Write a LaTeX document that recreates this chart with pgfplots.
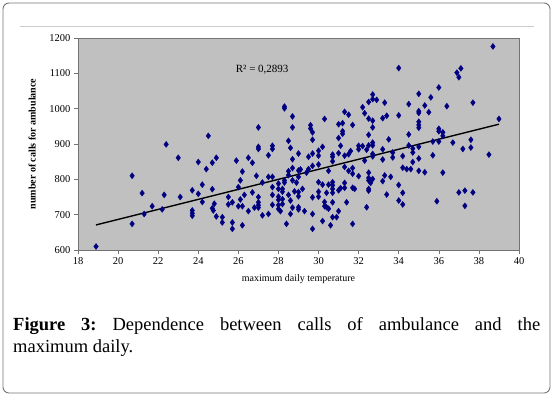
\documentclass[border=0pt]{standalone}
\usepackage{pgfplots}
\pgfplotsset{compat=1.18}
\usepackage{fontspec}
\setmainfont{Liberation Serif}
\definecolor{plotbg}{RGB}{192,192,192}
\definecolor{navymark}{RGB}{0,0,128}
\pgfplotstableread{
x y
18.9 610
20.7 810
20.7 674
21.2 761
21.3 702
21.7 724
22.2 715
22.3 756
22.4 899
23.0 861
23.1 750
23.7 769
23.7 712
23.7 704
23.7 697
24.0 849
24.0 759
24.2 785
24.2 736
24.4 829
24.5 923
24.7 772
24.7 847
24.9 861
24.7 718
24.75 712
24.8 731
24.9 695
25.2 693
25.2 678
25.5 750
25.5 729
25.7 735
25.7 678
25.7 660
25.9 853
26.0 778
26.1 797
26.1 743
26.0 724
26.2 822
26.2 670
26.2 724
26.3 756
26.5 861
26.5 710
26.7 847
26.7 763
26.8 720
26.9 810
27.0 947
27.0 892
27.0 886
27.0 750
27.0 735
27.0 727
27.0 720
27.2 791
27.2 698
27.5 868
27.5 807
27.5 702
27.7 895
27.7 886
27.7 807
27.7 778
27.7 756
27.7 728
28.0 788
28.0 773
28.0 751
28.0 742
28.0 727
28.0 716
28.1 710
28.2 773
28.2 765
28.2 744
28.2 730
28.3 1006
28.3 1001
28.3 797
28.3 791
28.4 674
28.5 909
28.5 823
28.5 812
28.5 756
28.6 889
28.6 740
28.6 702
28.7 978
28.7 947
28.7 857
28.7 832
28.7 797
28.7 720
28.8 766
28.9 791
29.0 873
29.0 825
29.0 807
29.0 764
29.0 752
29.0 721
29.0 715
29.1 828
29.2 773
29.3 710
29.4 819
29.5 864
29.5 829
29.6 953
29.6 944
29.7 933
29.7 912
29.7 873
29.7 838
29.7 749
29.7 702
29.7 660
30.0 881
30.0 867
30.0 842
30.0 792
30.0 765
30.0 751
30.2 892
30.2 785
30.2 682
30.3 971
30.3 736
30.3 724
30.4 762
30.4 721
30.5 824
30.5 785
30.5 717
30.6 670
30.7 870
30.7 864
30.7 851
30.7 792
30.7 783
30.7 773
30.7 762
30.7 735
30.7 693
30.9 693
31.0 956
31.0 917
31.0 874
31.0 769
31.0 710
31.1 895
31.1 775
31.2 959
31.2 936
31.2 929
31.3 991
31.3 867
31.3 835
31.3 790
31.3 776
31.4 735
31.5 983
31.5 871
31.5 824
31.6 880
31.7 954
31.7 832
31.7 816
31.7 776
31.7 674
31.8 773
32.0 895
32.0 885
32.0 809
32.2 1004
32.2 894
32.3 987
32.3 853
32.4 884
32.4 721
32.5 1019
32.5 972
32.5 926
32.5 896
32.5 819
32.5 804
32.5 797
32.5 773
32.5 768
32.6 790
32.7 1040
32.7 1027
32.7 966
32.7 947
32.7 904
32.7 896
32.7 872
32.7 865
32.7 801
32.9 1025
33.2 973
33.2 885
33.2 856
33.2 795
33.3 1017
33.3 811
33.4 980
33.4 757
33.5 913
33.6 807
33.7 876
33.7 862
34.0 1115
34.0 981
34.0 784
34.0 740
34.2 866
34.2 833
34.2 762
34.2 729
34.4 829
34.5 1013
34.5 927
34.5 896
34.6 829
34.7 887
34.7 876
34.7 849
35.0 1042
35.0 993
35.0 988
35.0 963
35.0 954
35.0 946
35.0 892
35.0 859
35.0 824
35.3 1009
35.3 820
35.5 990
35.6 1032
35.7 907
35.7 868
35.9 738
36.0 1060
36.0 943
36.0 936
36.0 907
36.2 933
36.2 923
36.2 819
36.4 1007
36.7 904
36.9 1102
37.0 1089
37.1 1114
37.0 763
37.2 886
37.3 725
37.3 768
37.6 912
37.6 890
37.7 1017
37.7 763
38.5 870
38.7 1176
39.0 971
}\datatable
\begin{document}
\frenchspacing
\begin{tikzpicture}
\useasboundingbox (0pt,0pt) rectangle (553pt,-397pt);
\draw[rounded corners=6pt, draw=gray!90!black, line width=0.9pt] (3pt,-3pt) rectangle (550pt,-393pt);
\draw[draw=gray!40, line width=0.8pt] (19.5pt,-26.5pt) -- (534pt,-26.5pt);
\begin{axis}[
  at={(78pt,-250pt)}, anchor=south west,
  scale only axis, width=441pt, height=212pt,
  xmin=18, xmax=40, ymin=600, ymax=1200,
  xtick distance=2, ytick distance=100,
  axis background/.style={fill=plotbg},
  axis line style={draw=gray!90!black, line width=0.6pt},
  tick pos=left, tick align=outside,
  major tick length=4pt,
  tick style={draw=gray!90!black, line width=0.6pt},
  /pgf/number format/assume math mode=true,
  /pgf/number format/1000 sep={},
  ticklabel style={font=\fontsize{10.5}{12}\selectfont},
  xlabel={maximum daily temperature},
  ylabel={number of calls for ambulance},
  xlabel style={at={(axis description cs:0.5,-0.137)}, anchor=center, font=\fontsize{10}{12}\selectfont},
  ylabel style={at={(axis description cs:-0.104,0.5)}, anchor=center, font=\fontsize{10}{12}\selectfont\bfseries},
  clip=false,
]
\addplot[only marks, mark=diamond*, mark size=3pt, color=navymark] table[x=x,y=y] {\datatable};
\addplot[black, line width=1.4pt, no marks] coordinates {(18.9,671) (39.0,956)};
\node[anchor=west, font=\fontsize{11}{13}\selectfont] at (axis cs:25.7,1110) {R² = 0,2893};
\end{axis}
\node[anchor=north west, inner sep=0pt, text width=527pt, align=justify, font=\fontsize{18.5}{22.5}\selectfont] at (13pt,-317pt) {\textbf{Figure 3:} Dependence between calls of ambulance and the\linebreak maximum daily.};
\end{tikzpicture}
\end{document}
